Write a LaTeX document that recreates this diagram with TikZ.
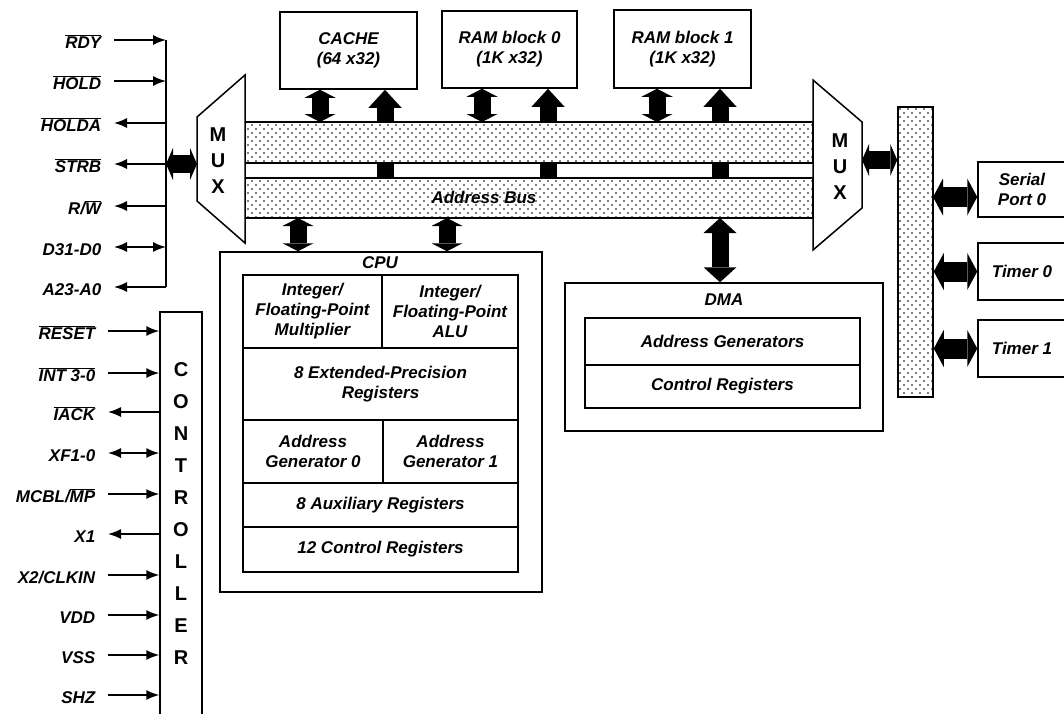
\documentclass[tikz,border=0pt]{standalone}
\usepackage{fontspec}
\setmainfont{Liberation Sans}
\usepackage{tikz}
\usetikzlibrary{arrows.meta,patterns}
\newcommand{\pinarrow}{-{Latex[length=13pt,width=10pt]}}
\newcommand{\pinboth}{{Latex[length=13pt,width=10pt]}-{Latex[length=13pt,width=10pt]}}
\newcommand{\ovl}[1]{$\overline{\mbox{#1}}$}
\pgfdeclarepatternformonly{busdots}{\pgfqpoint{-1pt}{-1pt}}{\pgfqpoint{7pt}{7pt}}{\pgfqpoint{8pt}{8pt}}{
  \pgfpathcircle{\pgfqpoint{0pt}{0pt}}{0.8pt}
  \pgfpathcircle{\pgfqpoint{4pt}{4pt}}{0.8pt}
  \pgfusepath{fill}
}
\tikzset{
  lbl/.style={font=\fontsize{17}{20}\selectfont\bfseries\itshape},
  pinlabel/.style={lbl, anchor=east, inner xsep=12pt, inner ysep=0pt, text height=18pt, text depth=2pt},
  unitbox/.style={lbl, draw, line width=1.5pt, align=center, inner sep=0pt},
  busband/.style={draw, line width=1.5pt, fill=white, postaction={pattern=busdots}, inner sep=0pt},
  muxtext/.style={font=\fontsize{20}{26}\selectfont\bfseries, align=center},
  memboth/.style={line width=17pt, {Triangle[length=8pt,width=31pt,line width=0pt]}-{Triangle[length=8pt,width=31pt,line width=0pt]}},
  memup/.style={line width=17pt, -{Triangle[length=18pt,width=33pt,line width=0pt]}},
  dmaboth/.style={line width=17pt, {Triangle[length=15pt,width=33pt,line width=0pt]}-{Triangle[length=15pt,width=33pt,line width=0pt]}},
  muxlink/.style={line width=18pt, {Triangle[length=7pt,width=32pt,line width=0pt]}-{Triangle[length=7pt,width=32pt,line width=0pt]}},
  portlink/.style={line width=20pt, {Triangle[length=10pt,width=37pt,line width=0pt]}-{Triangle[length=10pt,width=37pt,line width=0pt]}}
}

\begin{document}
\begin{tikzpicture}[x=1pt,y=-1pt,line width=1.5pt]
\useasboundingbox (0,0) rectangle (1064,713);

\node[unitbox, minimum width=137pt, minimum height=77pt] (cache) at (348.5,50.5) {CACHE\\(64 x32)};
\node[unitbox, minimum width=135pt, minimum height=77pt] (ram0) at (509.5,49.5) {RAM block 0\\(1K x32)};
\node[unitbox, minimum width=137pt, minimum height=78pt] (ram1) at (682.5,49) {RAM block 1\\(1K x32)};

\coordinate (cacheD) at (320,122);
\coordinate (cacheA) at (385,178);
\coordinate (ram0D) at (482,122);
\coordinate (ram0A) at (548,178);
\coordinate (ram1D) at (657,122);
\coordinate (ram1A) at (720,178);
\draw[memboth] (cacheD) -- (cacheD |- cache.south);
\draw[memup] (cacheA) -- (cacheA |- cache.south);
\draw[memboth] (ram0D) -- (ram0D |- ram0.south);
\draw[memup] (ram0A) -- (ram0A |- ram0.south);
\draw[memboth] (ram1D) -- (ram1D |- ram1.south);
\draw[memup] (ram1A) -- (ram1A |- ram1.south);

\node[busband, minimum width=568pt, minimum height=41pt] (databus) at (529,142.5) {};
\node[busband, minimum width=568pt, minimum height=40pt] (addrbus) at (529,198) {};
\node[lbl] (addrlbl) at (484,197) {Address Bus};

\draw[fill=white] (197,117) -- (245,75) -- (245,243) -- (197,201) -- cycle;
\draw[fill=white] (813,80) -- (862,122) -- (862,208) -- (813,250) -- cycle;
\node[muxtext] (muxl) at (218,161) {M\\U\\X};
\node[muxtext] (muxr) at (840,167) {M\\U\\X};
\coordinate (muxlw) at (197,164);
\coordinate (muxre) at (862,160);

\node[busband, minimum width=35pt, minimum height=290pt] (pbus) at (915.5,252) {};
\draw[muxlink] (muxre) -- (muxre -| pbus.west);

\node[unitbox, minimum width=88pt, minimum height=55pt] (sp0) at (1022,189.5) {Serial\\Port 0};
\node[unitbox, minimum width=88pt, minimum height=57pt] (tim0) at (1022,271.5) {Timer 0};
\node[unitbox, minimum width=88pt, minimum height=57pt] (tim1) at (1022,348.5) {Timer 1};
\coordinate (sp0p) at (933,197);
\draw[portlink] (sp0p) -- (sp0p -| sp0.west);
\draw[portlink] (pbus.east |- tim0) -- (tim0);
\draw[portlink] (pbus.east |- tim1) -- (tim1);

\node[unitbox, minimum width=322pt, minimum height=340pt] (cpu) at (381,422) {};
\node[lbl] (cputitle) at (380,263) {CPU};
\node[unitbox, minimum width=139pt, minimum height=73pt] (mult) at (312.5,311.5) {Integer/\\Floating-Point\\Multiplier};
\node[unitbox, minimum width=136pt, minimum height=73pt] (alu) at (450,311.5) {Integer/\\Floating-Point\\ALU};
\node[unitbox, minimum width=275pt, minimum height=72pt] (extreg) at (380.5,384) {8 Extended-Precision\\Registers};
\node[unitbox, minimum width=140pt, minimum height=63pt] (ag0) at (313,451.5) {Address\\Generator 0};
\node[unitbox, minimum width=135pt, minimum height=63pt] (ag1) at (450.5,451.5) {Address\\Generator 1};
\node[unitbox, minimum width=275pt, minimum height=44pt] (auxreg) at (380.5,505) {8 Auxiliary Registers};
\node[unitbox, minimum width=275pt, minimum height=45pt] (ctlreg) at (380.5,549.5) {12 Control Registers};
\coordinate (cpuA) at (298,218);
\coordinate (cpuB) at (447,218);
\draw[memboth] (cpuA) -- (cpuA |- cpu.north);
\draw[memboth] (cpuB) -- (cpuB |- cpu.north);

\node[unitbox, minimum width=318pt, minimum height=148pt] (dma) at (724,357) {};
\node[lbl] (dmatitle) at (724,300) {DMA};
\node[unitbox, minimum width=275pt, minimum height=47pt] (dmaag) at (722.5,341.5) {Address Generators};
\node[unitbox, minimum width=275pt, minimum height=43pt] (dmacr) at (722.5,386.5) {Control Registers};
\coordinate (dmaA) at (720,218);
\draw[dmaboth] (dmaA) -- (dmaA |- dma.north);

\node[pinlabel] (rdy) at (114,40) {\ovl{RDY}};
\node[pinlabel] (hold) at (114,81) {\ovl{HOLD}};
\node[pinlabel] (holda) at (114,123) {\ovl{HOLDA}};
\node[pinlabel] (strb) at (114,164) {\ovl{STRB}};
\node[pinlabel] (rw) at (114,206) {R/\ovl{W}};
\node[pinlabel] (data) at (114,247) {D31-D0};
\node[pinlabel] (addr) at (114,287) {A23-A0};
\coordinate (rdyp) at (166,40);
\coordinate (holdp) at (166,81);
\coordinate (holdap) at (166,123);
\coordinate (strbp) at (166,164);
\coordinate (rwp) at (166,206);
\coordinate (datap) at (166,247);
\coordinate (addrp) at (166,287);
\draw (rdyp) -- (addrp);
\draw[\pinarrow] (rdy) -- (rdyp);
\draw[\pinarrow] (hold) -- (holdp);
\draw[\pinarrow] (holdap) -- (holda);
\draw[\pinarrow] (strbp) -- (strb);
\draw[\pinarrow] (rwp) -- (rw);
\draw[\pinboth] (data) -- (datap);
\draw[\pinarrow] (addrp) -- (addr);
\draw[muxlink] (strbp) -- (muxlw);

\node[unitbox, minimum width=42pt, minimum height=403pt, font=\fontsize{20}{32}\selectfont\bfseries] (ctrl) at (181,513.5) {C\\O\\N\\T\\R\\O\\L\\L\\E\\R};
\node[pinlabel] (reset) at (108,331) {\ovl{RESET}};
\node[pinlabel] (intr) at (108,373) {\ovl{INT 3-0}};
\node[pinlabel] (iack) at (108,412) {\ovl{IACK}};
\node[pinlabel] (xf) at (108,453) {XF1-0};
\node[pinlabel] (mcbl) at (108,494) {MCBL/\ovl{MP}};
\node[pinlabel] (xone) at (108,534) {X1};
\node[pinlabel] (clkin) at (108,575) {X2/CLKIN};
\node[pinlabel] (vdd) at (108,615) {VDD};
\node[pinlabel] (vss) at (108,655) {VSS};
\node[pinlabel] (shz) at (108,695) {SHZ};
\draw[\pinarrow] (reset) -- (reset -| ctrl.west);
\draw[\pinarrow] (intr) -- (intr -| ctrl.west);
\draw[\pinarrow] (iack -| ctrl.west) -- (iack);
\draw[\pinboth] (xf) -- (xf -| ctrl.west);
\draw[\pinarrow] (mcbl) -- (mcbl -| ctrl.west);
\draw[\pinarrow] (xone -| ctrl.west) -- (xone);
\draw[\pinarrow] (clkin) -- (clkin -| ctrl.west);
\draw[\pinarrow] (vdd) -- (vdd -| ctrl.west);
\draw[\pinarrow] (vss) -- (vss -| ctrl.west);
\draw[\pinarrow] (shz) -- (shz -| ctrl.west);
\end{tikzpicture}
\end{document}
